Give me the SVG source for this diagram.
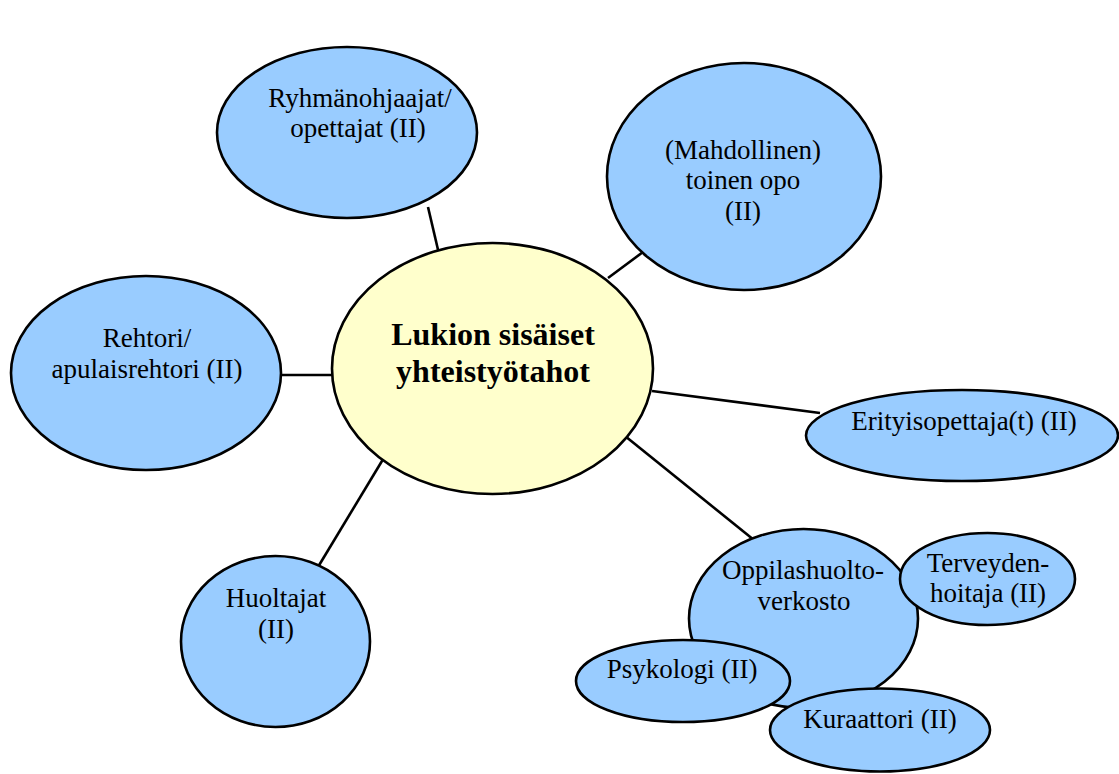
<svg xmlns="http://www.w3.org/2000/svg" width="1119" height="774" viewBox="0 0 1119 774">
<style>
.n{fill:#99CCFF;stroke:#000;stroke-width:2.6}
.c{fill:#FFFFCC;stroke:#000;stroke-width:2.6}
.t{font-family:"Liberation Serif","Times New Roman",serif;font-size:27px;fill:#000;text-anchor:middle}
.b{font-family:"Liberation Serif","Times New Roman",serif;font-size:32px;font-weight:bold;fill:#000;text-anchor:middle}
.l{stroke:#000;stroke-width:2.6;fill:none}
</style>
<rect width="1119" height="774" fill="#fff"/>
<g id="connectors">
<line class="l" x1="428" y1="207" x2="439" y2="254"/>
<line class="l" x1="608" y1="278" x2="643" y2="252"/>
<line class="l" x1="281" y1="375" x2="333" y2="375"/>
<line class="l" x1="652" y1="391" x2="820" y2="413"/>
<line class="l" x1="385" y1="456" x2="318" y2="567"/>
<line class="l" x1="625" y1="436" x2="754" y2="540"/>
</g>
<g id="center">
<ellipse class="c" cx="492.5" cy="368.5" rx="160.5" ry="125.5"/>
<text class="b" x="493" y="345">Lukion sisäiset</text>
<text class="b" x="493" y="382">yhteistyötahot</text>
</g>
<g id="ryhmanohjaajat">
<ellipse class="n" cx="347" cy="132.5" rx="130" ry="85.5"/>
<text class="t" x="360" y="107">Ryhmänohjaajat/</text>
<text class="t" x="358" y="137">opettajat (II)</text>
</g>
<g id="toinen-opo">
<ellipse class="n" cx="744" cy="176.5" rx="137" ry="113.5"/>
<text class="t" x="743" y="159">(Mahdollinen)</text>
<text class="t" x="743" y="189">toinen opo</text>
<text class="t" x="743" y="220">(II)</text>
</g>
<g id="rehtori">
<ellipse class="n" cx="146" cy="373" rx="135" ry="97"/>
<text class="t" x="147" y="347">Rehtori/</text>
<text class="t" x="147" y="378">apulaisrehtori (II)</text>
</g>
<g id="erityisopettaja">
<ellipse class="n" cx="962" cy="435.5" rx="156" ry="45.5"/>
<text class="t" x="964" y="430">Erityisopettaja(t) (II)</text>
</g>
<g id="huoltajat">
<ellipse class="n" cx="275.5" cy="641.5" rx="94.5" ry="85.5"/>
<text class="t" x="276" y="607">Huoltajat</text>
<text class="t" x="276" y="638">(II)</text>
</g>
<g id="oppilashuoltoverkosto">
<ellipse class="n" cx="803.5" cy="618.5" rx="114.5" ry="89.5"/>
<text class="t" x="803" y="579">Oppilashuolto-</text>
<text class="t" x="804" y="610">verkosto</text>
</g>
<g id="terveydenhoitaja">
<ellipse class="n" cx="987.5" cy="579" rx="87.5" ry="46"/>
<text class="t" x="988" y="572">Terveyden-</text>
<text class="t" x="988" y="602">hoitaja (II)</text>
</g>
<g id="psykologi">
<ellipse class="n" cx="683" cy="681" rx="107" ry="41"/>
<text class="t" x="682" y="678">Psykologi (II)</text>
</g>
<g id="kuraattori">
<ellipse class="n" cx="880" cy="730" rx="110" ry="41.5"/>
<text class="t" x="880" y="728">Kuraattori (II)</text>
</g>
</svg>
